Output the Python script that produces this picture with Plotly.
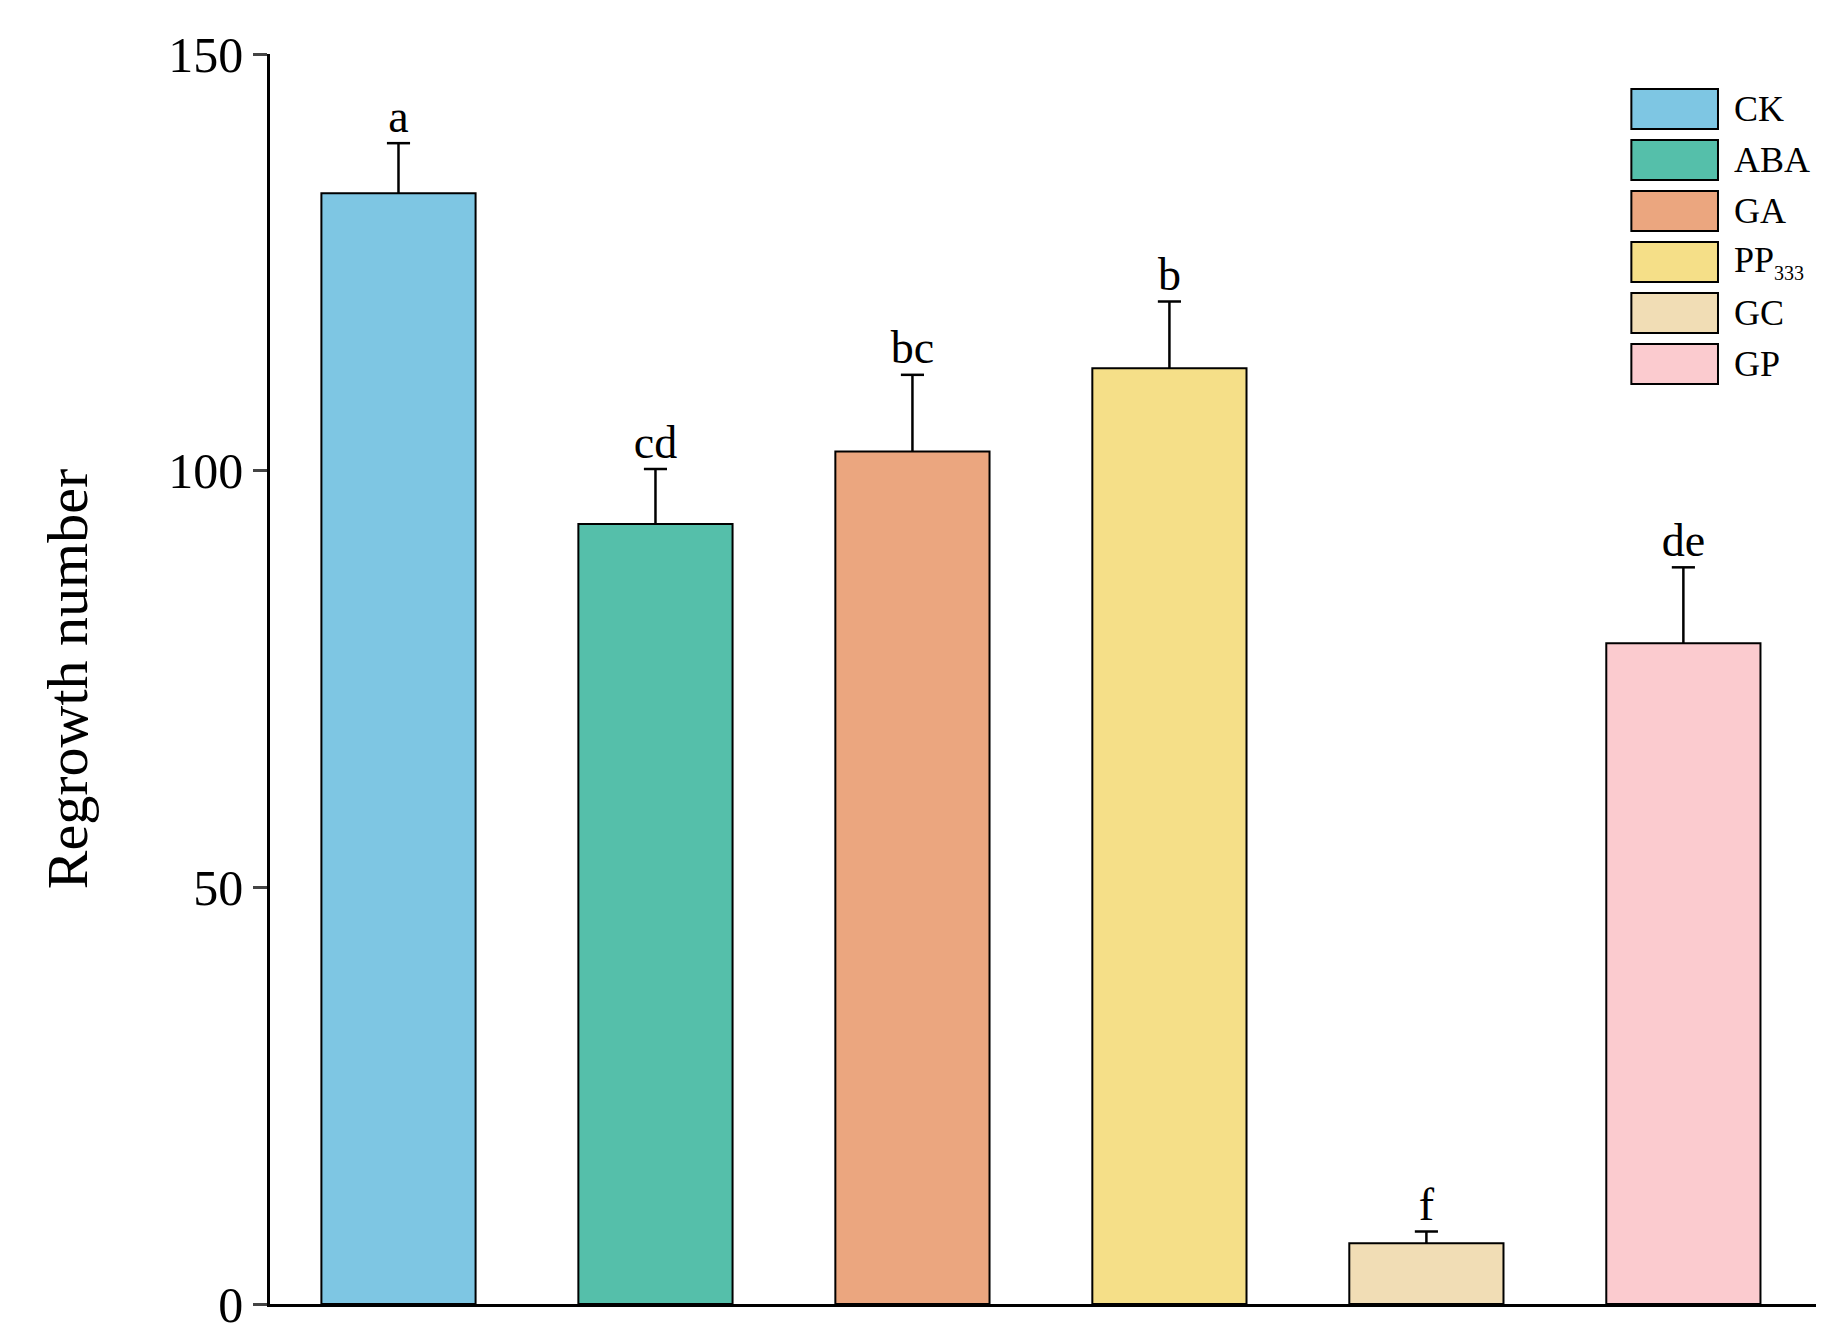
import plotly.graph_objects as go

categories = ["CK", "ABA", "GA", "PP<sub>333</sub>", "GC", "GP"]
values = [133.3, 93.6, 102.3, 112.3, 7.3, 79.3]
errors = [6.0, 6.6, 9.2, 8.0, 1.4, 9.1]
letters = ["a", "cd", "bc", "b", "f", "de"]
colors = ["#7EC6E3", "#55BFAA", "#EBA67F", "#F5DF88", "#F1DDB5", "#FBCBCF"]

F = "Liberation Serif"
fig = go.Figure()
x = list(range(len(categories)))
fig.add_trace(go.Bar(
    x=x, y=values, width=0.6,
    marker=dict(color=colors, line=dict(color="black", width=2)),
    showlegend=False))

# error bars: upward stem + top cap only
ex, ey = [], []
cap = 0.045
for xi, v, e in zip(x, values, errors):
    ex += [xi, xi, None, xi - cap, xi + cap, None]
    ey += [v, v + e, None, v + e, v + e, None]
fig.add_trace(go.Scatter(x=ex, y=ey, mode="lines",
                         line=dict(color="black", width=2.5), showlegend=False,
                         hoverinfo="skip"))
fig.add_trace(go.Scatter(
    x=x, y=[v + e for v, e in zip(values, errors)], mode="text",
    text=letters, textposition="top center",
    textfont=dict(family=F, size=46, color="black"), showlegend=False))

shapes = []
annotations = []
for i, (c, col) in enumerate(zip(categories, colors)):
    top = 0.972 - i * 0.0408
    shapes.append(dict(type="rect", xref="paper", yref="paper",
                       x0=0.880, x1=0.936, y0=top - 0.032, y1=top,
                       fillcolor=col, line=dict(color="black", width=2)))
    label = c.replace("<sub>333</sub>", "<sub><span style='font-size:20px'>333</span></sub>")
    annotations.append(dict(xref="paper", yref="paper", x=0.945, y=top - 0.016,
                            text=label, showarrow=False, xanchor="left", yanchor="middle",
                            font=dict(family=F, size=36, color="black")))

fig.update_layout(
    width=1824, height=1339, plot_bgcolor="white", paper_bgcolor="white",
    margin=dict(l=262, r=15, t=46, b=43),
    shapes=shapes, annotations=annotations,
    xaxis=dict(range=[-0.5, 5.52], showticklabels=False, ticks="",
               showline=True, linecolor="black", linewidth=2.5, showgrid=False,
               zeroline=False),
    yaxis=dict(range=[0, 150], tickvals=[0, 50, 100, 150], ticks="outside",
               ticklen=14, tickwidth=2.5, showline=True, linecolor="black",
               linewidth=2.5, showgrid=False, zeroline=False,
               tickfont=dict(family=F, size=50, color="black"),
               title=dict(text="Regrowth number", standoff=62,
                          font=dict(family=F, size=58, color="black"))),
)
fig.write_html("out.html")
